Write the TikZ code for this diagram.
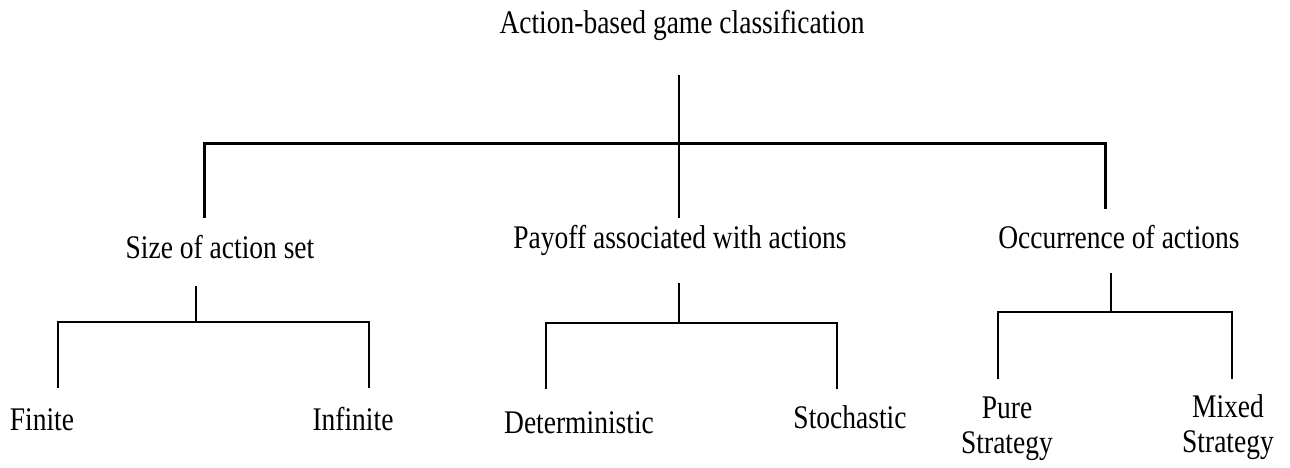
\documentclass[tikz,border=0pt]{standalone}
\usepackage{fontspec}
\setmainfont{Liberation Serif}
\newcommand{\tall}[1]{\scalebox{1}[1.2]{#1}}
\newcommand{\twolines}[2]{\tall{\begin{tabular}[t]{@{}c@{}}#1\\#2\end{tabular}}}
\begin{document}
\begin{tikzpicture}[x=1pt,y=1pt,
  lbl/.style={inner sep=0pt,anchor=base,font=\fontsize{27.5}{29.5}\selectfont},
  stem/.style={line width=1.8pt},
  topbar/.style={line width=3pt,line join=miter},
  subbar/.style={line width=2.6pt,line join=miter}]
\useasboundingbox (0,0) rectangle (1290,-467);

% labels
\node[lbl] (root) at (682,-33) {\tall{Action-based game classification}};
\node[lbl] (size) at (220,-258) {\tall{Size of action set}};
\node[lbl] (pay) at (680,-248) {\tall{Payoff associated with actions}};
\node[lbl] (occ) at (1119,-248) {\tall{Occurrence of actions}};
\node[lbl] (fin) at (42,-430) {\tall{Finite}};
\node[lbl] (inf) at (353,-430) {\tall{Infinite}};
\node[lbl] (det) at (579,-433) {\tall{Deterministic}};
\node[lbl] (sto) at (850,-428) {\tall{Stochastic}};
\node[lbl] (pure) at (1007,-418) {\twolines{Pure}{Strategy}};
\node[lbl] (mix) at (1228,-417) {\twolines{Mixed}{Strategy}};

% junction points of the top level
\coordinate (r0) at (679,-75);
\coordinate (r1) at (679,-143);
\coordinate (a0) at (204,-218);
\coordinate (b0) at (679,-218);
\coordinate (c0) at (1105,-209);

% junction points of the lower level
\coordinate (s0) at (196,-286);
\coordinate (s1) at (196,-322);
\coordinate (sf) at (58,-388);
\coordinate (si) at (369,-388);

\coordinate (p0) at (679,-283);
\coordinate (p1) at (679,-323);
\coordinate (pd) at (546,-389);
\coordinate (ps) at (837,-389);

\coordinate (o0) at (1111,-273);
\coordinate (o1) at (1111,-312);
\coordinate (op) at (998,-379);
\coordinate (om) at (1232,-379);

% top level tree
\draw[stem] (r0) -- (b0);
\draw[topbar] (a0) |- (r1) -| (c0);

% lower level trees
\draw[stem,line width=2.4pt] (s0) -- (s1);
\draw[subbar] (sf) |- (s1) -| (si);
\draw[stem,line width=2.4pt] (p0) -- (p1);
\draw[subbar] (pd) |- (p1) -| (ps);
\draw[stem,line width=2.4pt] (o0) -- (o1);
\draw[subbar] (op) |- (o1) -| (om);
\end{tikzpicture}
\end{document}
